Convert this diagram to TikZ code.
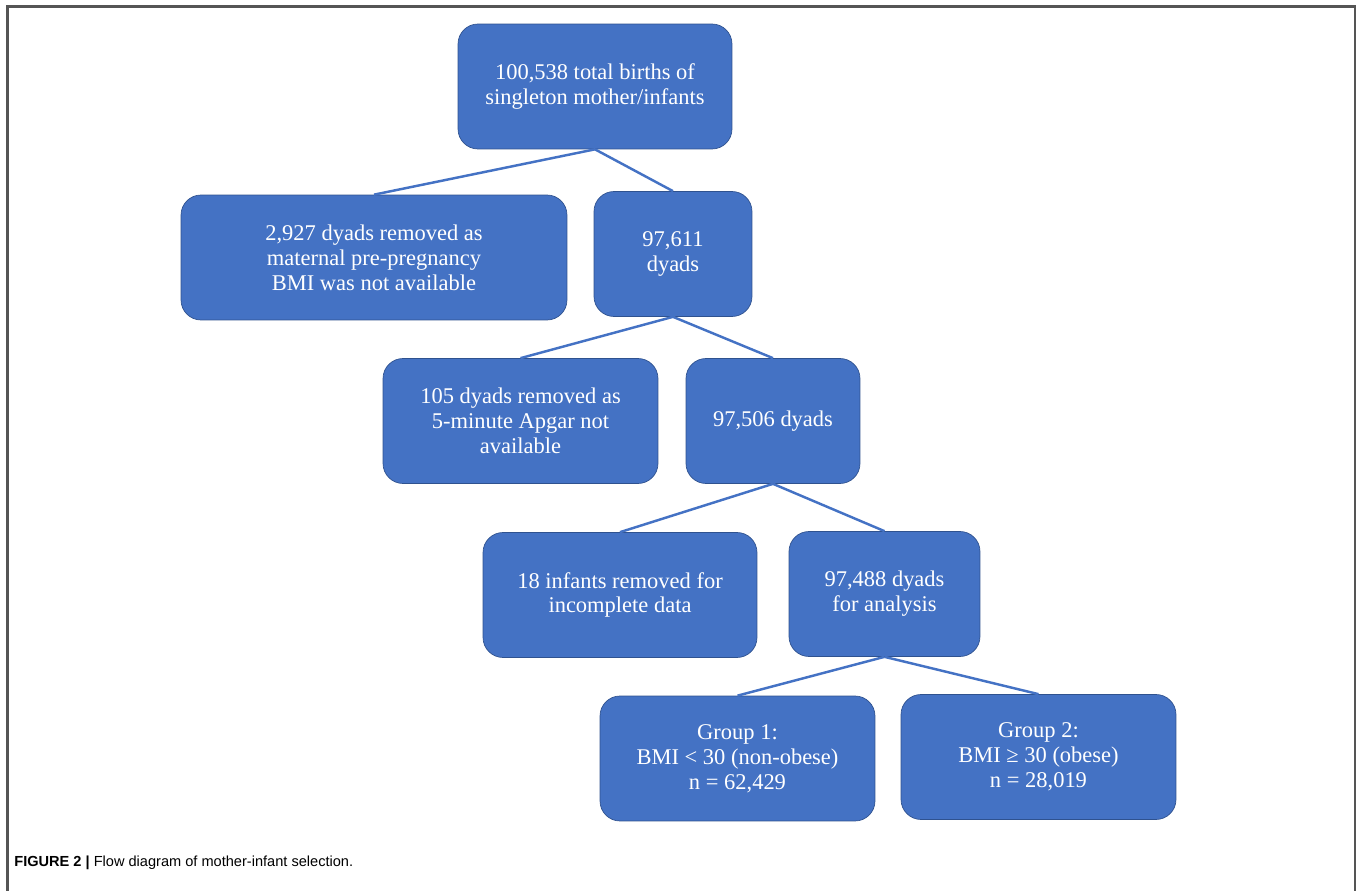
\documentclass[tikz,border=0pt]{standalone}
\usepackage{fontspec}
\setmainfont{Liberation Serif}
\newfontfamily\capfont{Liberation Sans}
\usetikzlibrary{positioning}
\definecolor{boxblue}{HTML}{4472C4}
\definecolor{boxedge}{HTML}{2F528F}
\definecolor{framegray}{HTML}{555555}

\begin{document}
\begin{tikzpicture}[
  x=0.02cm, y=-0.02cm,
  box/.style  = {draw=boxedge, fill=boxblue, rounded corners=0.4cm, text=white, align=center,
                 font=\fontsize{12.8}{14.2}\selectfont, minimum height=2.5cm, inner sep=2pt},
  link/.style = {draw=boxblue, line width=1.4pt},
]
  \useasboundingbox (0,0) rectangle (1357,891);
  \draw[framegray, line width=1.2pt] (7.5,891) |- (1355,6.5) -- (1355,891);

  \node[box, minimum width=5.48cm]  (births)     at (595,86.5)   {100,538 total births of\\singleton mother/infants};
  \node[box, minimum width=7.72cm]  (noBMI)      at (374,257.5)  {2,927 dyads removed as\\maternal pre-pregnancy\\BMI was not available};
  \node[box, minimum width=3.16cm]  (dyadsA)     at (673,254)    {97,611\\dyads};
  \node[box, minimum width=5.5cm]   (noApgar)    at (520.5,421)  {105 dyads removed as\\5-minute Apgar not\\available};
  \node[box, minimum width=3.48cm]  (dyadsB)     at (773,421)    {97,506 dyads};
  \node[box, minimum width=5.48cm]  (incomplete) at (620,595)    {18 infants removed for\\incomplete data};
  \node[box, minimum width=3.82cm]  (analysis)   at (884.5,594)  {97,488 dyads\\for analysis};
  \node[box, minimum width=5.5cm]   (groupA)     at (737.5,758.5) {Group 1:\\BMI < 30 (non-obese)\\n = 62,429};
  \node[box, minimum width=5.5cm]   (groupB)     at (1038.5,757) {Group 2:\\BMI ≥ 30 (obese)\\n = 28,019};

  \draw[link] (births.south)   -- (noBMI.north);
  \draw[link] (births.south)   -- (dyadsA.north);
  \draw[link] (dyadsA.south)   -- (noApgar.north);
  \draw[link] (dyadsA.south)   -- (dyadsB.north);
  \draw[link] (dyadsB.south)   -- (incomplete.north);
  \draw[link] (dyadsB.south)   -- (analysis.north);
  \draw[link] (analysis.south) -- (groupA.north);
  \draw[link] (analysis.south) -- (groupB.north);

  \node[anchor=base west, inner sep=0pt, font=\capfont\fontsize{8.3}{10}\selectfont] (caption) at (14,867)
    {\textbf{FIGURE 2 |} Flow diagram of mother-infant selection.};
\end{tikzpicture}
\end{document}
